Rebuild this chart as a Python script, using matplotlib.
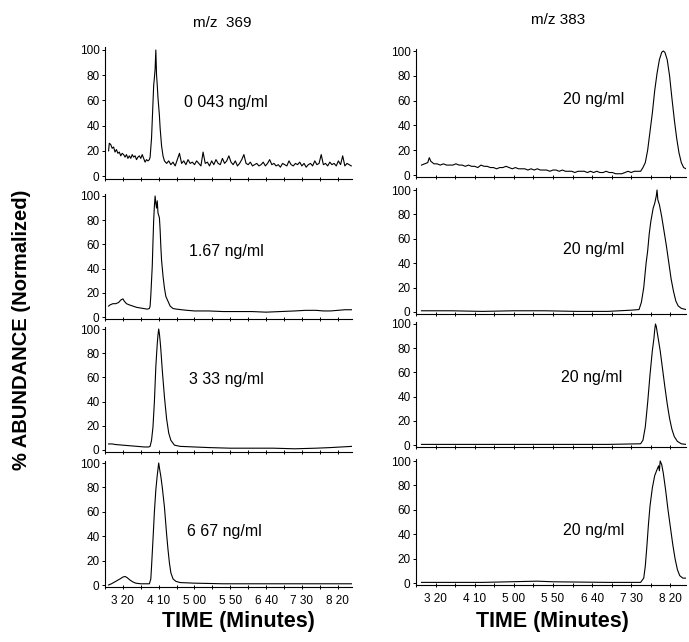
"""
Selected ion chromatograms, m/z 369 (left) and m/z 383 internal standard (right)
"""
import numpy as np
import matplotlib.pyplot as plt
plt.rcParams.update({'font.size': 8, 'font.family': ['Liberation Sans', 'DejaVu Sans']})

# x ticks: retention time in seconds, labelled "min sec"
tick_sec = [200, 250, 300, 350, 400, 450, 500]
tick_lab = ['3 20', '4 10', '5 00', '5 50', '6 40', '7 30', '8 20']
y_ticks = [0, 20, 40, 60, 80, 100]

# m/z 369 traces (time s, % abundance)
l1 = [(180, 20), (181, 26), (183, 25), (185, 22), (187, 23), (189, 19), (191, 21),
      (193, 18), (195, 19), (197, 16), (199, 18), (201, 17), (203, 15), (205, 17),
      (207, 14), (209, 16), (211, 14), (213, 17), (215, 15), (217, 16), (219, 13),
      (221, 15), (223, 16), (225, 14), (227, 17), (229, 14), (231, 11), (233, 13),
      (235, 12), (237, 13), (238, 15), (240, 30), (241, 45), (242, 58), (243, 72),
      (244, 78), (245, 85), (246, 100), (247, 80), (248, 72), (249, 62), (250, 55),
      (251, 48), (252, 38), (254, 24), (256, 16), (258, 12),
      (261, 10), (264, 12), (267, 9), (270, 11), (273, 8), (276, 13), (279, 18),
      (282, 10), (285, 12), (288, 9), (291, 13), (294, 10), (297, 11), (300, 9),
      (303, 12), (306, 10), (309, 8), (312, 19), (315, 10), (318, 11), (321, 8),
      (324, 12), (327, 9), (330, 13), (333, 10), (336, 9), (339, 14), (342, 10),
      (345, 12), (348, 16), (351, 11), (354, 9), (357, 12), (360, 8), (363, 10),
      (366, 13), (369, 17), (372, 10), (375, 9), (378, 11), (381, 8), (384, 9),
      (387, 10), (390, 8), (393, 9), (396, 11), (399, 8), (402, 10), (405, 13),
      (408, 9), (411, 10), (414, 8), (417, 9), (420, 7), (423, 10), (426, 9),
      (429, 8), (432, 12), (435, 9), (438, 8), (441, 10), (444, 9), (447, 11),
      (450, 8), (453, 10), (456, 7), (459, 9), (462, 10), (465, 8), (468, 12),
      (471, 9), (474, 10), (477, 17), (480, 9), (483, 10), (486, 8), (489, 11),
      (492, 9), (495, 10), (498, 8), (501, 12), (504, 9), (507, 16), (510, 8),
      (513, 10), (516, 9), (519, 8)]
l2 = [(180, 9), (182, 10), (186, 11), (190, 11), (194, 12), (197, 14), (200, 15),
      (202, 13), (205, 11), (209, 10), (214, 9), (219, 8), (224, 7.5), (229, 7),
      (234, 6.5), (237, 7), (238, 9), (239, 18), (240, 30), (241, 42), (242, 62),
      (243, 80), (244, 92), (245, 100), (246, 94), (247, 90), (248, 96), (249, 86),
      (250, 84), (251, 82), (252, 72), (253, 58), (254, 47), (256, 34), (258, 24),
      (260, 17), (263, 13), (266, 9), (270, 7), (275, 6.5), (282, 6), (290, 5.5),
      (300, 5), (320, 5), (340, 4.5), (360, 4.5), (380, 4.5), (400, 4), (420, 4.5),
      (440, 5), (455, 5.5), (470, 5.5), (480, 5), (490, 5), (500, 5.5), (510, 6),
      (520, 6)]
l3 = [(180, 5), (185, 5), (190, 4.5), (200, 4), (210, 3.5), (220, 3), (230, 2.5),
      (236, 2.5), (238, 3), (240, 8), (242, 19), (244, 40), (246, 69), (248, 88),
      (249, 95), (250, 100), (251, 96), (252, 90), (253, 83), (255, 66), (258, 44),
      (261, 26), (264, 14), (267, 8), (272, 4), (280, 3), (300, 2.5), (320, 2),
      (350, 1.5), (380, 1.5), (410, 1.5), (440, 1), (470, 1.5), (490, 2), (505, 2.5),
      (520, 3)]
l4 = [(180, 0), (184, 1), (190, 3), (196, 5), (200, 6.5), (203, 7), (206, 6),
      (210, 4), (214, 2.5), (218, 1.5), (225, 1), (232, 1), (237, 1), (239, 5),
      (240, 15), (242, 37), (244, 60), (246, 78), (248, 90), (250, 100), (251, 96),
      (253, 89), (255, 80), (258, 64), (261, 42), (263, 29), (265, 18), (267, 10),
      (270, 5), (274, 3), (280, 2), (300, 1.5), (340, 1), (380, 1), (420, 1),
      (460, 1), (490, 1), (520, 1)]

# m/z 383 traces
r1 = [(182, 8), (186, 9), (190, 10), (192, 14), (194, 11), (198, 9), (202, 9),
      (206, 8), (210, 9), (214, 8), (218, 8), (222, 8), (226, 9), (230, 8), (234, 8),
      (238, 7), (242, 8), (246, 7), (250, 7), (254, 6), (258, 8), (262, 7), (266, 7),
      (270, 6), (274, 6), (278, 5), (282, 6), (286, 6), (290, 7), (294, 6), (298, 5),
      (302, 6), (306, 5), (310, 5), (314, 5), (318, 4), (322, 5), (326, 4), (330, 5),
      (334, 4), (338, 4), (342, 4), (346, 3), (350, 4), (354, 4), (358, 3), (362, 4),
      (366, 3), (370, 3), (374, 3), (378, 2), (382, 3), (386, 3), (390, 3), (394, 2),
      (398, 3), (402, 2), (406, 3), (410, 2), (414, 2), (418, 3), (422, 2), (426, 2),
      (430, 1), (434, 1), (438, 1), (442, 2), (446, 3), (450, 2), (454, 3), (458, 3),
      (462, 3), (465, 6), (468, 10), (471, 20), (474, 35), (477, 50), (480, 68),
      (483, 82), (486, 93), (489, 99), (491, 100), (493, 99), (496, 93), (499, 80),
      (502, 62), (505, 45), (508, 30), (511, 18), (514, 10), (517, 6), (520, 5)]
r2 = [(182, 1), (220, 1), (260, 0.5), (300, 1), (340, 1), (380, 0.5), (420, 0.5),
      (450, 1.5), (460, 2), (463, 8), (466, 20), (469, 40), (471, 50), (473, 64),
      (475, 74), (478, 85), (480, 89), (482, 95), (483, 100), (484, 92), (486, 88),
      (489, 78), (492, 66), (495, 54), (497, 45), (499, 36), (501, 27), (504, 17),
      (507, 9), (510, 5), (514, 3), (520, 2)]
r3 = [(182, 0.5), (260, 0.5), (340, 0.5), (420, 0.5), (462, 1), (465, 4), (468, 15),
      (471, 35), (474, 58), (477, 78), (479, 88), (480, 95), (481, 100), (482, 98),
      (484, 90), (487, 78), (490, 63), (493, 48), (496, 34), (499, 22), (502, 13),
      (505, 7), (509, 3), (514, 1), (520, 0.5)]
r4 = [(182, 0.5), (260, 0.5), (330, 1.5), (350, 1), (420, 0.5), (462, 0.5), (466, 4),
      (468, 14), (470, 30), (472, 48), (474, 63), (477, 78), (480, 88), (483, 93),
      (485, 96), (486, 92), (487, 100), (489, 97), (491, 90), (494, 76), (497, 60),
      (500, 46), (503, 32), (506, 20), (509, 11), (512, 6), (516, 4), (520, 4)]

left_traces = [l1, l2, l3, l4]
right_traces = [r1, r2, r3, r4]
left_labels = ['0 043 ng/ml', '1.67 ng/ml', '3 33 ng/ml', '6 67 ng/ml']
right_labels = ['20 ng/ml'] * 4
left_lab_pos = [(286, 58), (292, 54), (292, 58), (289, 44)]
right_lab_pos = [(363, 61), (363, 51), (360, 56), (363, 43)]

W, H = 689, 642
fig = plt.figure(figsize=(W / 100, H / 100), dpi=100)

# panel rows in pixels: (y of 100, y of 0)
left_rows = [(50, 176), (196, 317), (329, 450), (463, 585)]
right_rows = [(51, 175), (190, 312), (324, 445), (461, 583)]
columns = [(105, 352, left_rows, left_traces, left_labels, left_lab_pos),
           (416, 686, right_rows, right_traces, right_labels, right_lab_pos)]

y0, y1 = -2, 102
for x_l, x_r, rows, traces, labels, lab_pos in columns:
    for i, ((p100, p0), tr, lab, pos) in enumerate(zip(rows, traces, labels, lab_pos)):
        k = (p0 - p100) / 100.0
        top = p100 - (y1 - 100) * k
        bot = p0 - (y0 - 0) * k
        ax = fig.add_axes([x_l / W, 1 - bot / H, (x_r - x_l) / W, (bot - top) / H])
        t, a = np.array(tr).T
        ax.plot(t, a, c='k', lw=0.8)
        ax.set_xlim(180, 520)
        ax.set_ylim(y0, y1)
        ax.spines[['top', 'right']].set_visible(False)
        ax.spines[['left', 'bottom']].set_linewidth(0.8)
        ax.set_yticks(y_ticks)
        ax.set_xticks(tick_sec)
        ax.set_xticks(np.arange(175, 520, 25), minor=True)
        ax.tick_params(axis='y', length=2.5, width=0.7, pad=1.5, labelsize=8.5)
        ax.tick_params(axis='x', which='both', direction='inout', length=3, width=0.7,
                       pad=4, labelsize=8.5)
        if i == 3:
            ax.set_xticklabels(tick_lab)
        else:
            ax.set_xticklabels([])
        ax.text(pos[0], pos[1], lab, fontsize=11.5, ha='left', va='center')

fig.text(222 / W, 1 - 23 / H, 'm/z  369', fontsize=11, ha='center', va='center')
fig.text(558 / W, 1 - 20 / H, 'm/z 383', fontsize=11, ha='center', va='center')
fig.text(22 / W, 1 - 330 / H, '% ABUNDANCE (Normalized)', fontsize=14.5, fontweight='bold',
         rotation=90, ha='center', va='center')
fig.text(238 / W, 1 - 621 / H, 'TIME (Minutes)', fontsize=15.5, fontweight='bold',
         ha='center', va='center')
fig.text(552 / W, 1 - 621 / H, 'TIME (Minutes)', fontsize=15.5, fontweight='bold',
         ha='center', va='center')

fig.savefig('out.png', dpi=100)
